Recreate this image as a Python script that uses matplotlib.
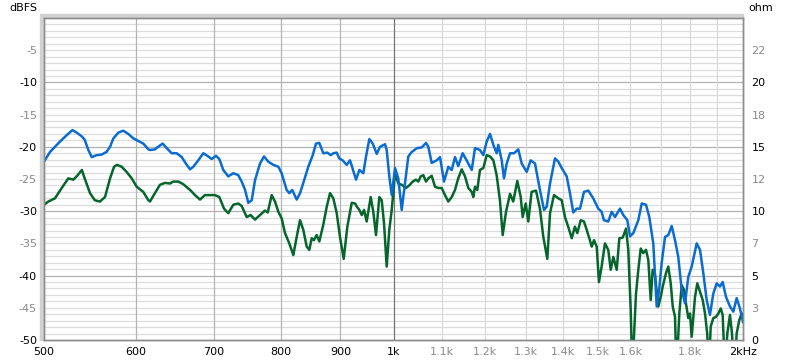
import matplotlib
matplotlib.use("Agg")
import matplotlib.pyplot as plt
from matplotlib.patches import Rectangle


# точки кривых (Гц, dBFS)
blue_pts = [
    (500, -22.3), (506, -20.8), (516, -19.2), (523, -18.2), (529, -17.4), (533.5, -17.8), (539, -18.4), (542, -18.9), (546, -20.5), (549.6, -21.6),
    (555, -21.3), (560.6, -21.2), (566, -20.8), (570, -20.0), (573.7, -18.7), (579.4, -17.8), (585, -17.5), (591, -18.0), (597, -18.7), (602.8, -19.1),
    (608.8, -19.5), (615, -20.4), (617, -20.5), (623, -20.4), (627, -20.0), (632.7, -19.5), (637.8, -20.2), (644, -21.0), (650.5, -21.0), (657, -21.6),
    (663.6, -22.8), (668, -23.5), (672.3, -23.1), (679, -22.1), (685.8, -21.0), (692.6, -21.5), (697.3, -21.9), (703.3, -21.4), (707.9, -21.9), (713.5, -23.6),
    (720.6, -24.6), (727.8, -24.1), (735, -24.4), (740, -25.4), (745, -26.7), (749.8, -28.7), (754.9, -28.3), (759.8, -25.2), (767.4, -22.6), (773.5, -21.5),
    (780, -22.3), (787.9, -22.8), (795.8, -23.1), (801, -24.1), (809, -26.7), (813.3, -27.2), (818, -26.7), (825.3, -28.2), (830.8, -27.2), (836.2, -25.6),
    (844.5, -23.1), (852, -21.3), (857.5, -19.5), (863.2, -19.4), (870, -21.0), (877, -20.9), (882.9, -21.3), (887.5, -21.0), (893.5, -20.9), (898, -21.8),
    (904, -22.1), (911.4, -22.8), (917.4, -22.1), (928.4, -25.1), (934.5, -23.6), (941.9, -24.1), (947, -21.5), (953.2, -18.8), (959.6, -19.5), (967.3, -21.1),
    (973.6, -20.0), (983.3, -19.6), (986.6, -20.5), (991.7, -24.6), (996.5, -27.5), (1003, -23.3), (1009.6, -24.9), (1016.4, -29.8), (1023, -25.7), (1029.8, -21.5),
    (1036.8, -20.8), (1048, -20.2), (1057.5, -20.1), (1066.6, -19.4), (1071.5, -20.0), (1078.7, -22.5), (1089.5, -22.1), (1096.6, -21.6), (1105.4, -25.4), (1114.8, -23.1),
    (1122.4, -23.6), (1129.7, -21.6), (1137, -23.0), (1147, -21.0), (1156, -22.1), (1167.8, -23.6), (1175.4, -20.2), (1187, -20.5), (1195, -21.3), (1203, -19.2),
    (1211, -18.0), (1219, -19.7), (1227, -21.0), (1231, -19.7), (1239.4, -22.1), (1245, -24.9), (1251.7, -22.6), (1260, -21.0), (1270, -21.0), (1280.8, -20.4),
    (1289.5, -22.6), (1302.4, -23.9), (1312.7, -22.1), (1324, -22.6), (1337, -26.7), (1347.8, -29.8), (1355, -29.3), (1364, -25.7), (1377.5, -21.8), (1386.6, -22.3),
    (1396, -23.3), (1409.9, -24.6), (1419, -27.2), (1428.5, -30.2), (1438, -29.6), (1447.6, -29.6), (1459, -27.0), (1471.6, -26.8), (1486, -28.0), (1501, -29.6),
    (1511, -30.1), (1518, -31.4), (1531, -31.6), (1541.5, -30.1), (1551.6, -30.9), (1567, -29.6), (1577.4, -30.6), (1590, -31.4), (1598.5, -33.9), (1609, -33.4),
    (1625, -31.4), (1636, -28.8), (1650, -29.0), (1660.8, -30.9), (1674, -35.0), (1685.4, -44.8), (1694, -42.0), (1702, -38.1), (1713.4, -34.0), (1724.6, -33.7),
    (1736.3, -32.3), (1747.7, -34.5), (1759, -37.1), (1771, -42.2), (1782.7, -44.3), (1794.4, -40.2), (1806.5, -38.6), (1824.5, -35.0), (1836.5, -36.0), (1848.6, -39.6),
    (1861, -43.8), (1873, -46.1), (1885.6, -42.8), (1898.4, -41.2), (1910.8, -41.7), (1921, -41.0), (1933.7, -43.3), (1949, -44.8), (1962, -45.6), (1975, -43.5),
    (1988, -45.1), (2000, -47.2),
]

green_pts = [
    (500, -29.0), (504.3, -28.5), (511, -28.0), (517.9, -26.4), (524.7, -24.9), (530, -25.1), (534, -24.5), (539, -23.6), (542, -24.9), (547.8, -27.2),
    (553, -28.3), (558.7, -28.5), (564.3, -27.8), (570, -24.9), (574.5, -23.1), (578, -22.8), (583.3, -23.1), (589, -23.9), (595, -24.9), (600.9, -26.2),
    (604.9, -26.6), (608.8, -27.0), (615, -28.3), (617, -28.5), (623, -27.2), (629.3, -25.9), (635.6, -25.6), (642, -25.7), (646, -25.4), (652.6, -25.4),
    (659, -25.8), (668, -26.7), (674.6, -27.5), (681.3, -28.2), (688, -27.5), (695, -27.5), (701.9, -27.5), (707.9, -27.8), (714.5, -29.6), (720.6, -30.3),
    (727.8, -29.0), (735, -28.8), (740, -29.2), (747.4, -30.9), (753.3, -30.6), (759.8, -31.3), (767.4, -30.6), (775, -29.9), (779.2, -30.2), (785.4, -27.5),
    (790.6, -28.5), (795.8, -30.1), (801, -31.1), (806.4, -33.4), (813.3, -35.0), (819.8, -36.8), (825.3, -34.0), (830.8, -31.4), (836.2, -32.9), (841.9, -35.5),
    (846.2, -36.0), (850.3, -34.2), (854, -34.5), (858.7, -33.7), (863.2, -34.7), (870, -32.1), (876, -29.3), (881.7, -27.2), (887.5, -28.0), (893.5, -30.3),
    (899.3, -34.0), (906, -37.4), (912.5, -32.4), (920.5, -28.7), (926.5, -28.8), (930.8, -29.4), (934.5, -29.8), (939, -30.6), (943.2, -29.8), (948.2, -31.6),
    (955.8, -27.8), (960.7, -30.1), (965.9, -33.7), (972.3, -27.8), (976.9, -28.3), (981.4, -31.9), (986.6, -38.6), (991.7, -32.9), (996.5, -29.8), (1003, -24.1),
    (1009.6, -25.7), (1016.4, -25.9), (1025, -26.4), (1033, -25.9), (1038.8, -25.4), (1045.6, -25.1), (1050.4, -25.4), (1055.4, -24.6), (1060.9, -24.4), (1066.6, -25.4),
    (1071.5, -24.9), (1078.7, -24.5), (1085.8, -26.2), (1092.9, -26.4), (1100.3, -26.4), (1107.5, -27.5), (1114.8, -28.5), (1122.4, -27.8), (1129.7, -26.7), (1137, -24.9),
    (1144.9, -23.5), (1152.4, -24.6), (1160, -26.4), (1167.8, -27.0), (1171.5, -27.8), (1175.4, -26.2), (1180.8, -26.7), (1187, -23.6), (1195, -23.3), (1203, -21.3),
    (1211, -21.5), (1219, -22.1), (1227, -24.4), (1235, -28.3), (1241.8, -33.7), (1250, -30.1), (1260, -27.3), (1268, -28.5), (1278.3, -25.3), (1287, -27.8),
    (1292, -30.9), (1299.8, -28.8), (1306.5, -31.6), (1315, -27.0), (1326.6, -26.8), (1337, -29.6), (1346, -34.0), (1356.7, -37.4), (1364, -30.3), (1374.8, -27.5),
    (1386.6, -28.0), (1396, -28.3), (1405, -30.9), (1414, -32.4), (1424, -34.2), (1433, -32.4), (1439.8, -33.4), (1449.6, -31.4), (1459, -31.6), (1467, -32.9),
    (1474.5, -34.2), (1481.6, -35.5), (1488.3, -34.5), (1496.3, -35.5), (1503, -41.0), (1511, -38.6), (1521, -35.0), (1531, -36.0), (1538.5, -39.1), (1546.4, -37.1),
    (1556.9, -39.1), (1565, -34.2), (1575.5, -34.1), (1585.9, -32.7), (1593, -36.0), (1600.7, -45.3), (1605.8, -55.0), (1617.6, -42.8), (1625, -39.1), (1632.8, -35.8),
    (1641, -36.5), (1650, -36.0), (1657.6, -37.6), (1665.5, -43.8), (1672, -39.1), (1679.7, -39.9), (1690.8, -44.8), (1698.8, -43.3), (1705.6, -41.7), (1716.8, -39.6),
    (1724.6, -38.6), (1732.9, -41.2), (1739.8, -44.8), (1747.7, -46.4), (1753, -55.0), (1762.7, -45.9), (1771, -41.5), (1779, -42.2), (1786, -44.3), (1794.4, -46.6),
    (1800.5, -45.9), (1806.5, -49.5), (1812.3, -46.4), (1818.4, -43.3), (1826.7, -41.2), (1836.5, -42.5), (1846.4, -43.8), (1854.9, -45.9), (1863, -49.0), (1868.5, -55.0),
    (1876, -47.9), (1885.6, -46.6), (1895.7, -46.4), (1904.4, -45.9), (1913.5, -45.1), (1921, -46.1), (1929.9, -55.0), (1938.7, -49.0), (1949, -46.1), (1956.8, -49.0),
    (1965.8, -55.0), (1975, -49.0), (1985.4, -46.9), (1994.9, -45.9), (2000, -46.1),
]

x_ticks = [500, 600, 700, 800, 900, 1000, 1100, 1200, 1300, 1400, 1500, 1600, 1800, 2000]
x_labels = ['500', '600', '700', '800', '900', '1k', '1.1k', '1.2k', '1.3k', '1.4k', '1.5k', '1.6k', '1.8k', '2kHz']
x_extra = [1700, 1900]
db_ticks = [-5, -10, -15, -20, -25, -30, -35, -40, -45, -50]
ohm_labels = ['22', '20', '18', '15', '12', '10', '7', '5', '3', '0']

BLUE = '#0a6cd2'
GREEN = '#05662c'
GREY_TXT = '#8a8a8a'


def main():
    fig = plt.figure(figsize=(8, 3.64), dpi=100)
    fig.patch.set_facecolor('white')

    left, bottom, width, height = 44 / 800, 24 / 364, 699 / 800, 322 / 364
    # серая "тень" рамки слева и сверху
    shadow = Rectangle((left - 4 / 800, bottom), width + 4 / 800, height + 4 / 364,
                       transform=fig.transFigure, color='#d2d2d2', zorder=-5)
    fig.patches.append(shadow)
    ax = fig.add_axes([left, bottom, width, height], zorder=1)
    ax.set_facecolor('white')

    ax.set_xscale('log')
    ax.set_xlim(500, 2000)
    ax.set_ylim(-50, 0)

    # сетка
    for db in range(-49, 0):
        col = '#b2b2b2' if db % 10 == 0 else '#dcdcdc'
        ax.axhline(db, color=col, lw=0.9, zorder=1)
    for f in x_ticks[1:-1] + x_extra:
        if f == 1000:
            col = '#747474'
        elif f < 1000:
            col = '#b4b4b4'
        else:
            col = '#d8d8d8'
        ax.axvline(f, color=col, lw=0.9, zorder=1)

    bf, bd = zip(*blue_pts)
    gf, gd = zip(*green_pts)
    ax.plot(gf, gd, color=GREEN, lw=1.8, zorder=3)
    ax.plot(bf, bd, color=BLUE, lw=1.8, zorder=4)

    ax.set_xticks(x_ticks)
    ax.set_xticklabels(x_labels)
    ax.xaxis.set_minor_locator(plt.NullLocator())
    ax.set_yticks(db_ticks)
    ax.set_yticklabels([str(d) for d in db_ticks])
    ax.tick_params(axis='both', length=0, labelsize=8)
    ax.tick_params(axis='x', pad=5)
    ax.tick_params(axis='y', pad=5)

    for lab, f in zip(ax.get_xticklabels(), x_ticks):
        lab.set_color('black' if f <= 1000 or f == 2000 else GREY_TXT)
    for lab, d in zip(ax.get_yticklabels(), db_ticks):
        lab.set_color('black' if d % 10 == 0 else GREY_TXT)

    ax2 = ax.twinx()
    ax2.set_ylim(0, 25)
    ax2.set_yticks([(d + 50) / 2 for d in db_ticks])
    ax2.set_yticklabels(ohm_labels)
    ax2.tick_params(axis='y', length=0, labelsize=8, pad=6)
    for lab, d in zip(ax2.get_yticklabels(), db_ticks):
        lab.set_color('black' if d % 10 == 0 else GREY_TXT)

    for a in (ax, ax2):
        for s in a.spines.values():
            s.set_color('#8c8c8c')
            s.set_linewidth(1.0)

    fig.text(23 / 800, 1 - 8 / 364, 'dBFS', ha='center', va='center', fontsize=8)
    fig.text(761 / 800, 1 - 8 / 364, 'ohm', ha='center', va='center', fontsize=8)

    fig.savefig('out.png', dpi=100)


if __name__ == "__main__":
    main()
